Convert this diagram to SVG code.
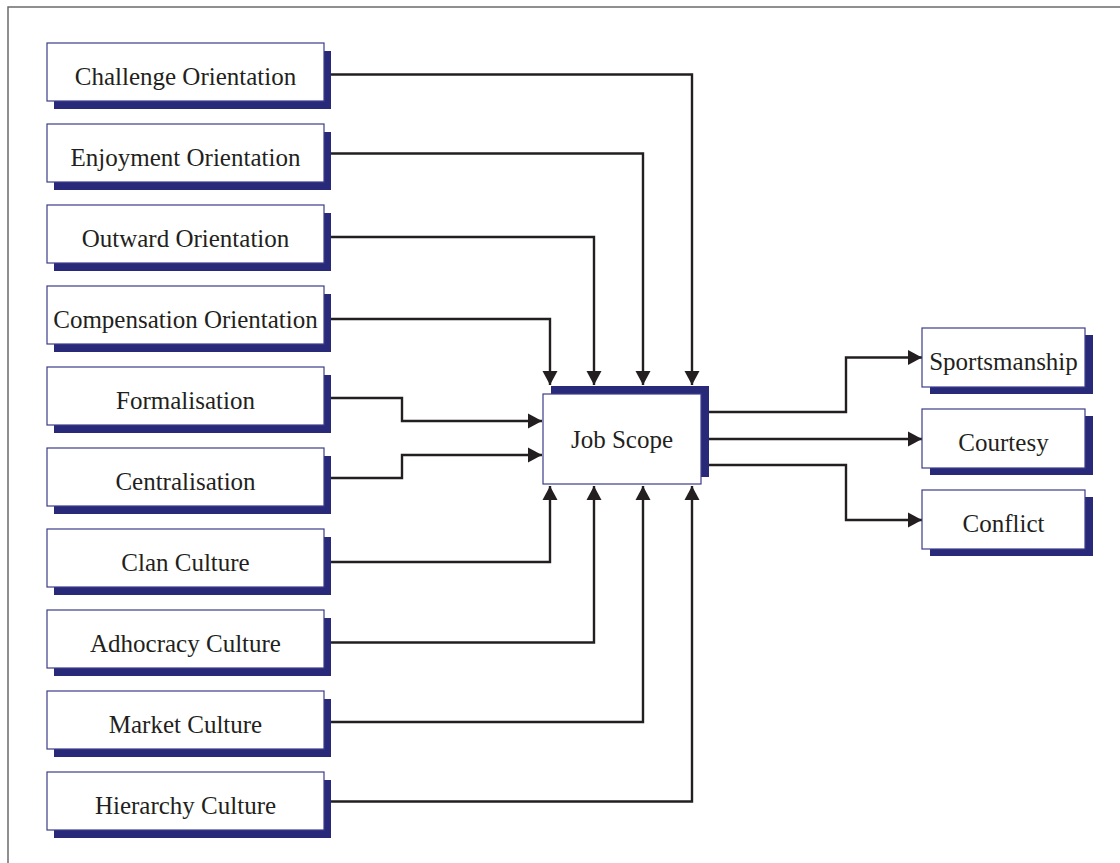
<svg xmlns="http://www.w3.org/2000/svg" width="1120" height="863" viewBox="0 0 1120 863">
  <defs>
    <style>
      .frame { fill: none; stroke: #6b6b6b; stroke-width: 1.5; }
      .shadow { fill: #29297a; }
      .box { fill: #ffffff; stroke: #3c3c8a; stroke-width: 1.2; }
      .label { font-family: "Liberation Serif", "Times New Roman", serif; font-size: 25px; fill: #231f20; text-anchor: middle; }
      .wire { fill: none; stroke: #231f20; stroke-width: 2.4; marker-end: url(#arrow); }
    </style>
    <marker id="arrow" markerUnits="userSpaceOnUse" markerWidth="18" markerHeight="18" viewBox="0 0 18 18" refX="16" refY="9" orient="auto">
      <path d="M2,1.5 L16,9 L2,16.5 Z" fill="#231f20"/>
    </marker>
  </defs>

  <rect width="1120" height="863" fill="#ffffff"/>
  <rect class="frame" x="8" y="7" width="1130" height="880"/>

  <!-- connectors -->
  <g id="connectors">
    <path class="wire" d="M324,74.5 H692 V385"/>
    <path class="wire" d="M324,153.5 H643 V385"/>
    <path class="wire" d="M324,237 H594 V385"/>
    <path class="wire" d="M324,319 H550 V385"/>
    <path class="wire" d="M324,398 H402 V421 H542"/>
    <path class="wire" d="M324,478 H402 V455 H542"/>
    <path class="wire" d="M324,562 H550 V486"/>
    <path class="wire" d="M324,642.5 H594 V486"/>
    <path class="wire" d="M324,722 H643 V486"/>
    <path class="wire" d="M324,801.5 H692 V486"/>
    <path class="wire" d="M709,412 H846 V357.5 H922"/>
    <path class="wire" d="M709,439 H922"/>
    <path class="wire" d="M709,465 H846 V520 H922"/>
  </g>

  <!-- antecedents -->
  <g id="challenge-orientation">
    <rect class="shadow" x="54" y="51" width="277" height="58"/>
    <rect class="box" x="47" y="43" width="277" height="58"/>
    <text class="label" x="185.5" y="85">Challenge Orientation</text>
  </g>
  <g id="enjoyment-orientation">
    <rect class="shadow" x="54" y="132" width="277" height="58"/>
    <rect class="box" x="47" y="124" width="277" height="58"/>
    <text class="label" x="185.5" y="166">Enjoyment Orientation</text>
  </g>
  <g id="outward-orientation">
    <rect class="shadow" x="54" y="213" width="277" height="58"/>
    <rect class="box" x="47" y="205" width="277" height="58"/>
    <text class="label" x="185.5" y="247">Outward Orientation</text>
  </g>
  <g id="compensation-orientation">
    <rect class="shadow" x="54" y="294" width="277" height="58"/>
    <rect class="box" x="47" y="286" width="277" height="58"/>
    <text class="label" x="185.5" y="328">Compensation Orientation</text>
  </g>
  <g id="formalisation">
    <rect class="shadow" x="54" y="375" width="277" height="58"/>
    <rect class="box" x="47" y="367" width="277" height="58"/>
    <text class="label" x="185.5" y="409">Formalisation</text>
  </g>
  <g id="centralisation">
    <rect class="shadow" x="54" y="456" width="277" height="58"/>
    <rect class="box" x="47" y="448" width="277" height="58"/>
    <text class="label" x="185.5" y="490">Centralisation</text>
  </g>
  <g id="clan-culture">
    <rect class="shadow" x="54" y="537" width="277" height="58"/>
    <rect class="box" x="47" y="529" width="277" height="58"/>
    <text class="label" x="185.5" y="571">Clan Culture</text>
  </g>
  <g id="adhocracy-culture">
    <rect class="shadow" x="54" y="618" width="277" height="58"/>
    <rect class="box" x="47" y="610" width="277" height="58"/>
    <text class="label" x="185.5" y="652">Adhocracy Culture</text>
  </g>
  <g id="market-culture">
    <rect class="shadow" x="54" y="699" width="277" height="58"/>
    <rect class="box" x="47" y="691" width="277" height="58"/>
    <text class="label" x="185.5" y="733">Market Culture</text>
  </g>
  <g id="hierarchy-culture">
    <rect class="shadow" x="54" y="780" width="277" height="58"/>
    <rect class="box" x="47" y="772" width="277" height="58"/>
    <text class="label" x="185.5" y="814">Hierarchy Culture</text>
  </g>

  <!-- mediator -->
  <g id="job-scope">
    <rect class="shadow" x="551" y="386" width="158" height="91"/>
    <rect class="box" x="543" y="394" width="158" height="90"/>
    <text class="label" x="622" y="448">Job Scope</text>
  </g>

  <!-- outcomes -->
  <g id="sportsmanship">
    <rect class="shadow" x="930" y="335" width="163" height="59"/>
    <rect class="box" x="922" y="328" width="163" height="59"/>
    <text class="label" x="1003.5" y="370">Sportsmanship</text>
  </g>
  <g id="courtesy">
    <rect class="shadow" x="930" y="416" width="163" height="59"/>
    <rect class="box" x="922" y="409" width="163" height="59"/>
    <text class="label" x="1003.5" y="451">Courtesy</text>
  </g>
  <g id="conflict">
    <rect class="shadow" x="930" y="497" width="163" height="59"/>
    <rect class="box" x="922" y="490" width="163" height="59"/>
    <text class="label" x="1003.5" y="532">Conflict</text>
  </g>
</svg>
